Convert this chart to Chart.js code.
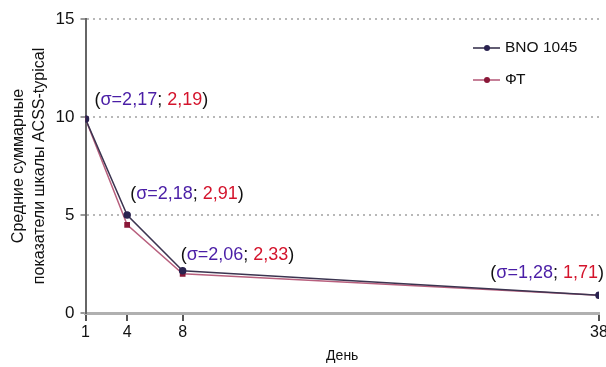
<!DOCTYPE html>
<html>
<head>
<meta charset="utf-8">
<script src="https://cdn.jsdelivr.net/npm/chart.js@4.4.0/dist/chart.umd.min.js"></script>
<style>
  html, body { margin: 0; padding: 0; background: #fff; }
  #wrap { width: 606px; height: 367px; }
</style>
</head>
<body>
<div id="wrap"><canvas id="c" width="606" height="367"></canvas></div>
<script>
// ---- data ----
const days = [1, 4, 8, 38];
const xTicks = [1, 4, 8, 38];
const bnoValues = [9.9, 5.0, 2.15, 0.9];
const ftValues = [9.9, 4.5, 2.0, 0.9];
const bnoSigma = ["2,17", "2,18", "2,06", "1,28"];
const ftSigma = ["2,19", "2,91", "2,33", "1,71"];
const seriesNames = ["BNO 1045", "ФТ"];
const yTitle = ["Средние суммарные", "показатели шкалы ACSS-typical"];
const xTitle = "День";

const FONT = "'Liberation Sans', Arial, Helvetica, sans-serif";
const PURPLE = "#4a1ea6";
const RED = "#d4142c";

// label placement (style): offsets relative to the data point
const labelPlace = [
  { dx: 9, dy: -19, align: 'left' },
  { dx: 3, dy: -21, align: 'left' },
  { dx: -2, dy: -16, align: 'left' },
  { dx: 5, dy: -22, align: 'right' }
];

const sigmaPlugin = {
  id: 'sigmaLabels',
  afterDatasetsDraw(chart) {
    const ctx = chart.ctx;
    const meta = chart.getDatasetMeta(0);
    ctx.save();
    ctx.font = "18px " + FONT;
    ctx.textBaseline = 'middle';
    ctx.textAlign = 'left';
    meta.data.forEach((pt, i) => {
      const parts = [
        ["(", "#111"],
        ["σ=" + bnoSigma[i], PURPLE],
        ["; ", "#111"],
        [ftSigma[i], RED],
        [")", "#111"]
      ];
      const total = parts.reduce((s, p) => s + ctx.measureText(p[0]).width, 0);
      const pl = labelPlace[i];
      let x = pt.x + pl.dx;
      if (pl.align === 'right') x -= total;
      const y = pt.y + pl.dy;
      parts.forEach(p => {
        ctx.fillStyle = p[1];
        ctx.fillText(p[0], x, y);
        x += ctx.measureText(p[0]).width;
      });
    });
    ctx.restore();
  }
};

const legendPlugin = {
  id: 'customLegend',
  afterDraw(chart) {
    const ctx = chart.ctx;
    ctx.save();
    ctx.font = "15.5px " + FONT;
    ctx.textBaseline = 'middle';
    const x0 = 473, rows = [48, 80];
    chart.data.datasets.forEach((ds, i) => {
      const y = rows[i];
      ctx.strokeStyle = ds.borderColor;
      ctx.lineWidth = 2;
      ctx.globalAlpha = 0.8;
      ctx.beginPath(); ctx.moveTo(x0, y); ctx.lineTo(x0 + 27, y); ctx.stroke();
      ctx.globalAlpha = 1;
      ctx.fillStyle = ds.pointBackgroundColor;
      ctx.beginPath(); ctx.arc(x0 + 14, y, 3, 0, Math.PI * 2); ctx.fill();
      ctx.fillStyle = '#111';
      ctx.fillText(ds.label, x0 + 32, y);
    });
    ctx.restore();
  }
};

new Chart(document.getElementById('c'), {
  type: 'line',
  data: {
    datasets: [
      {
        label: seriesNames[0],
        data: days.map((d, i) => ({ x: d, y: bnoValues[i] })),
        borderColor: '#3b3450',
        backgroundColor: '#2a2350',
        pointBackgroundColor: '#2a2350',
        pointBorderColor: '#2a2350',
        pointRadius: 3,
        borderWidth: 1.5,
        tension: 0
      },
      {
        label: seriesNames[1],
        data: days.map((d, i) => ({ x: d, y: ftValues[i] })),
        borderColor: '#b8607e',
        backgroundColor: '#8a1838',
        pointBackgroundColor: '#8a1838',
        pointBorderColor: '#8a1838',
        pointStyle: 'rect',
        pointRadius: 3,
        borderWidth: 1.5,
        tension: 0
      }
    ]
  },
  options: {
    responsive: false,
    animation: false,
    devicePixelRatio: 1,
    layout: { padding: { left: 7, right: 0, top: 19, bottom: 0 } },
    plugins: {
      legend: { display: false },
      tooltip: { enabled: false }
    },
    scales: {
      x: {
        type: 'linear',
        min: 1,
        max: 38,
        afterBuildTicks: (scale) => { scale.ticks = xTicks.map(v => ({ value: v })); },
        afterFit: (scale) => { scale.paddingRight = 7; },
        ticks: { color: '#111', font: { size: 16, family: FONT }, padding: 2, autoSkip: false, maxRotation: 0 },
        grid: { drawOnChartArea: false, color: '#555', tickLength: 8, lineWidth: 2 },
        border: { color: '#b0b0b0', width: 3 },
        title: { display: true, text: xTitle, color: '#111', font: { size: 14, family: FONT }, padding: { top: 4, bottom: 2 } }
      },
      y: {
        min: 0,
        max: 15,
        ticks: { stepSize: 5, color: '#111', font: { size: 17, family: FONT }, padding: 6 },
        grid: {
          color: (c) => c.tick && c.tick.value === 0 ? 'rgba(0,0,0,0)' : '#b8b8b8',
          lineWidth: 2,
          tickLength: 5,
          tickColor: '#999',
          tickBorderDash: []
        },
        border: { color: '#666', width: 2, dash: [2, 4] },
        title: { display: true, text: yTitle, color: '#111', font: { size: 16, family: FONT, lineHeight: 1.3 }, padding: { top: 1, bottom: 0 } }
      }
    }
  },
  plugins: [sigmaPlugin, legendPlugin]
});
</script>
</body>
</html>
